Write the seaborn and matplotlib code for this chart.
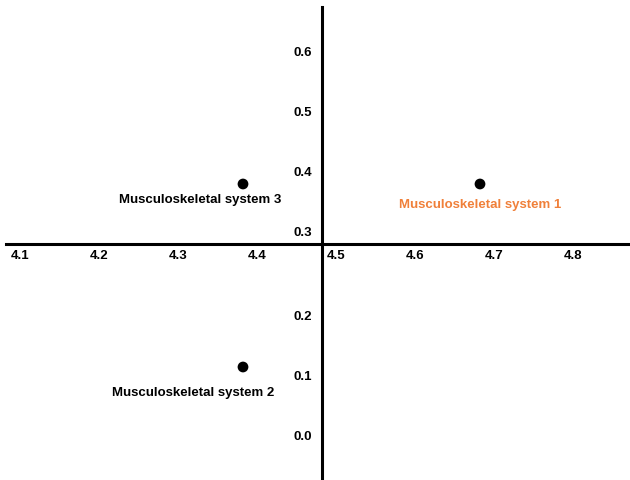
import seaborn as sns
import matplotlib.pyplot as plt
import pandas as pd
from matplotlib.transforms import ScaledTranslation

# data
systems = ["Musculoskeletal system 1", "Musculoskeletal system 2", "Musculoskeletal system 3"]
x_vals = [4.70, 4.40, 4.40]
y_vals = [0.40, 0.095, 0.40]
label_colors = ["#F0803A", "black", "black"]
x_ticks = [4.1, 4.2, 4.3, 4.4, 4.5, 4.6, 4.7, 4.8]
y_ticks = [0.0, 0.1, 0.2, 0.3, 0.4, 0.5, 0.6]
x_cross = 4.5
y_cross = 0.3

sns.set_style("white")
plt.rcParams['font.family'] = ['Liberation Sans', 'DejaVu Sans']

df = pd.DataFrame({"system": systems, "x": x_vals, "y": y_vals})

fig = plt.figure(figsize=(6.3, 4.8), dpi=100)
ax = fig.add_axes([6/630, 0, 1 - 6/630, 473/480])
sns.scatterplot(data=df, x="x", y="y", color="black", s=60, edgecolor="none", ax=ax, zorder=3)

# label offsets in pixels (dx, dy)
offsets = [(0, -21), (-50, -26), (-43, -16)]
for (name, xv, yv, c), (dx, dy) in zip(zip(systems, x_vals, y_vals, label_colors), offsets):
    ax.annotate(name, (xv, yv), xytext=(dx * 0.72, dy * 0.72), textcoords="offset points",
                ha="center", va="center", fontsize=9.5, fontweight="bold", color=c)

ax.set_xlim(4.1, 4.1 + 624 / 790)
ax.set_ylim(y_cross - 236 / 600, y_cross + 237 / 600)

# quadrant axes
for s in ["top", "right"]:
    ax.spines[s].set_visible(False)
ax.spines["left"].set_position(("data", x_cross))
ax.spines["bottom"].set_position(("data", y_cross))
ax.spines["left"].set_linewidth(2.2)
ax.spines["bottom"].set_linewidth(2.2)
ax.spines["left"].set_color("black")
ax.spines["bottom"].set_color("black")

ax.set_xticks(x_ticks)
ax.set_yticks(y_ticks)
ax.set_xticklabels([f"{v:.1f}" for v in x_ticks])
ax.set_yticklabels([f"{v:.1f}" for v in y_ticks])
ax.tick_params(length=0, labelsize=9.5, pad=0, labelcolor="black")
ax.set_xlabel("")
ax.set_ylabel("")

for t in ax.xaxis.get_major_ticks():
    lab = t.label1
    lab.set_fontweight("bold")
    lab.set_ha("left")
    lab.set_va("center")
    lab.set_transform(lab.get_transform() + ScaledTranslation(5/100, -12/100, fig.dpi_scale_trans))

for t, v in zip(ax.yaxis.get_major_ticks(), y_ticks):
    lab = t.label1
    lab.set_fontweight("bold")
    lab.set_va("center")
    dy = 11 if v >= y_cross else -12.5
    lab.set_transform(lab.get_transform() + ScaledTranslation(-10/100, dy/100, fig.dpi_scale_trans))

fig.savefig("out.png", dpi=100)
